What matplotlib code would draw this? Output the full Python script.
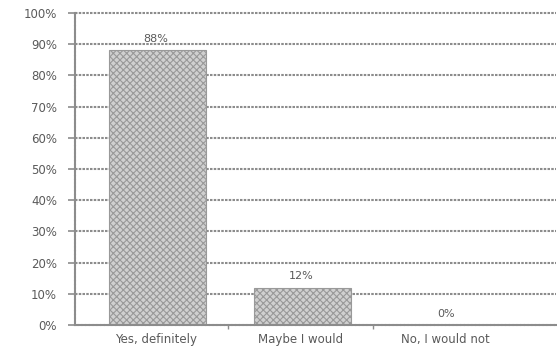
import matplotlib
matplotlib.use("Agg")
import matplotlib.pyplot as plt
import numpy as np

categories = ["Yes, definitely", "Maybe I would", "No, I would not"]
values = [88, 12, 0]
y_ticks = [0, 10, 20, 30, 40, 50, 60, 70, 80, 90, 100]
y_tick_labels = [f"{v}%" for v in y_ticks]

plt.rcParams["hatch.color"] = "#a0a0a0"
plt.rcParams["hatch.linewidth"] = 0.8

fig = plt.figure(figsize=(5.57, 3.54), dpi=100)
ax = fig.add_axes([0.1347, 0.0819, 0.998 - 0.1347, 0.9633 - 0.0819])

x = np.arange(len(categories))
grid_color = "#8c8c8c"
txt_color = "#5a5a5a"
font = "DejaVu Sans"
dotted = (0, (1.2, 0.6))

# horizontal gridlines as fine dotted rules
for v in y_ticks[1:]:
    ax.axhline(v, color=grid_color, linestyle=dotted, linewidth=1.5,
               zorder=1, clip_on=False)

bars = ax.bar(x + 0.01, values, width=0.67, color="#d0d0d0", edgecolor="#999999",
              linewidth=0.8, hatch="xxxxx", zorder=2)

for xi, v in zip(x, values):
    ax.text(xi, v + 2.0, f"{v}%", ha="center", va="bottom", family=font,
            fontsize=8, color=txt_color, zorder=3)

ax.set_xlim(-0.559, 2.76)
ax.set_ylim(0, 100)
ax.set_yticks(y_ticks)
ax.set_yticklabels(y_tick_labels, fontsize=8.5, color=txt_color, family=font)
ax.set_xticks([0.5, 1.5], minor=False)
ax.set_xticklabels([])
ax.set_xticks(x, minor=True)
ax.set_xticklabels(categories, minor=True, fontsize=8.5, color=txt_color, family=font)
ax.tick_params(axis="x", which="minor", length=0, pad=6)
ax.tick_params(axis="x", which="major", length=3, width=1, color=grid_color, direction="out")
ax.tick_params(axis="y", length=5, width=1.2, color=grid_color, direction="out", pad=8)

for side in ["top", "right"]:
    ax.spines[side].set_visible(False)
for side in ["left", "bottom"]:
    ax.spines[side].set_color(grid_color)
    ax.spines[side].set_linestyle(dotted)
    ax.spines[side].set_linewidth(1.5)
    ax.spines[side].set_zorder(4)

fig.savefig("out.png", dpi=100)
